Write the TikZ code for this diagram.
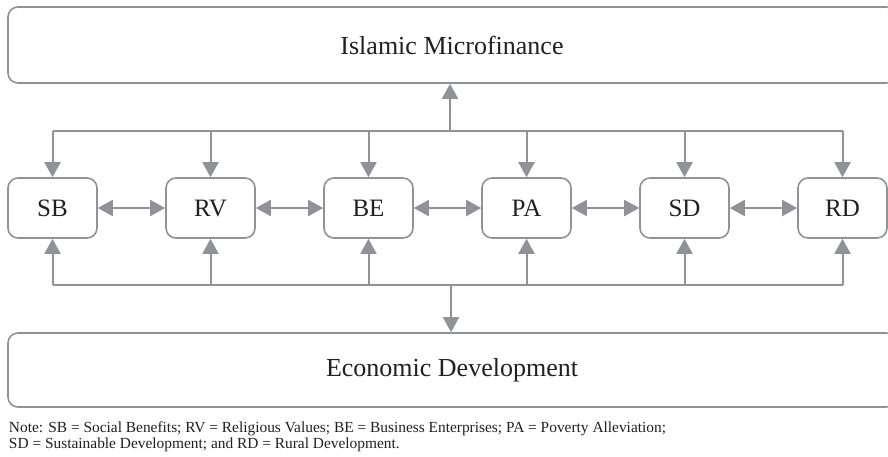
\documentclass[tikz,border=0pt]{standalone}
\usepackage{fontspec}
\setmainfont{Liberation Serif}
\usetikzlibrary{arrows.meta, positioning}
\definecolor{linegray}{RGB}{145,146,150}
\definecolor{textdark}{RGB}{35,31,32}

\begin{document}
\begin{tikzpicture}[x=0.5pt,y=-0.5pt,line width=1pt,draw=linegray,
  tip/.style={-{Triangle[length=7.5pt,width=8pt]}},
  both/.style={{Triangle[length=7.5pt,width=8pt]}-{Triangle[length=7.5pt,width=8pt]}},
  wide/.style={draw=linegray,rounded corners=5pt,minimum width=444pt,line width=0.8pt,
    font=\fontsize{13}{16}\selectfont,text=textdark},
  factor/.style={draw=linegray,rounded corners=5pt,minimum width=44.5pt,minimum height=30pt,
    line width=0.8pt,font=\fontsize{12.5}{15}\selectfont,text=textdark},
  node distance=79pt]
  \useasboundingbox (0,0) rectangle (888,456);

  \node[wide, minimum height=38pt] (im) at (452,45) {Islamic Microfinance};
  \node[wide, minimum height=37pt] (ed) at (452,370) {Economic Development};

  \node[factor] (sb) at (52.5,208) {SB};
  \node[factor] (rv) [right of = sb] {RV};
  \node[factor] (be) [right of = rv] {BE};
  \node[factor] (pa) [right of = be] {PA};
  \node[factor] (sd) [right of = pa] {SD};
  \node[factor] (rd) [right of = sd] {RD};

  \coordinate (tl) at (450,131);
  \coordinate (bl) at (451,285);

  % upper bus
  \draw[linegray] (sb.north |- tl) -- (rd.north |- tl);
  \draw[tip,linegray] (tl) -- (tl |- im.south);
  \foreach \n in {sb,rv,be,pa,sd,rd}
    \draw[tip,linegray] (\n.north |- tl) -- (\n.north);

  % lower bus
  \draw[linegray] (sb.south |- bl) -- (rd.south |- bl);
  \draw[tip,linegray] (bl) -- (bl |- ed.north);
  \foreach \n in {sb,rv,be,pa,sd,rd}
    \draw[tip,linegray] (\n.south |- bl) -- (\n.south);

  % links between neighbours
  \path[both,draw=linegray]
    (sb) edge (rv)
    (rv) edge (be)
    (be) edge (pa)
    (pa) edge (sd)
    (sd) edge (rd);

  \node[anchor=north west,align=left,inner sep=0pt,text=textdark,
    font=\fontsize{7.7}{8}\selectfont] (note) at (8,421)
    {Note: SB = Social Benefits; RV = Religious Values; BE = Business Enterprises; PA = Poverty Alleviation;\\
     SD = Sustainable Development; and RD = Rural Development.};
\end{tikzpicture}
\end{document}
